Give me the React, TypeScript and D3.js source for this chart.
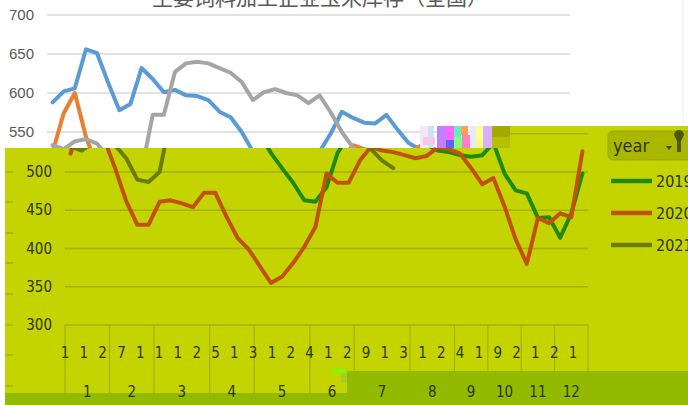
import React from 'react';
import * as d3 from 'd3';

// corn stock series (weekly points)
const TITLE = '主要饲料加工企业玉米库存（全国）';
const YEARS = ['2019', '2020', '2021'];
const values2019 = [588, 602, 606, 656, 651, 613, 578, 586, 632, 618, 601, 604, 597, 596, 591, 576, 569, 550, 525, 505, 486, 463, 461, 480, 525, 548, 576, 568, 562, 561, 572, 553, 536, 528, 526, 522, 520, 522, 538, 498, 476, 472, 440, 441, 414, 446, 498];
const values2020 = [524, 574, 600, 544, 505, 462, 431, 431, 461, 463, 459, 454, 473, 473, 442, 414, 399, 377, 355, 363, 381, 402, 428, 498, 486, 486, 515, 533, 528, 526, 522, 518, 521, 532, 530, 524, 505, 484, 492, 455, 412, 380, 440, 433, 446, 441, 527];
const values2021 = [533, 528, 538, 541, 535, 518, 490, 487, 500, 572, 572, 627, 638, 640, 638, 632, 626, 614, 591, 601, 605, 600, 597, 587, 597, 575, 550, 530, 515, 505];
const weeksPerMonth = [4, 4, 5, 4, 5, 4, 5, 4, 3, 3, 3, 3];
const monthLabels = ['1', '2', '3', '4', '5', '6', '7', '8', '9', '10', '11', '12'];
const dayLabels = ['1', '1', '2', '7', '1', '1', '1', '2', '5', '1', '3', '1', '2', '4', '1', '2', '9', '1', '3', '1', '2', '4', '1', '9', '2', '1', '2', '1'];
const topTicks = [700, 650, 600, 550];
const bottomTicks = [550, 500, 450, 400, 350, 300];

const series = [values2019, values2020, values2021];
const topColors = ['#5b9bd5', '#ed7d31', '#a5a5a5'];
const bottomColors = ['#1f8a06', '#c2500e', '#6b7d00'];

const W = 688;
const H = 405;
const N = values2019.length;

export default function App() {
  // upper (white) chart
  const xTop = d3.scalePoint<number>().domain(d3.range(N)).range([47, 570]).padding(0.5);
  const yTop = d3.scaleLinear().domain([300, 700]).range([327, 15]);
  // lower (pivot style) chart
  const xBot = d3.scalePoint<number>().domain(d3.range(N)).range([65, 588]).padding(0.5);
  const yBot = d3.scaleLinear().domain([300, 500]).range([325, 172]);
  const xDay = d3.scalePoint<number>().domain(d3.range(dayLabels.length)).range([65, 573]);

  const lineTop = d3.line<number>().x((d, i) => xTop(i)!).y(d => yTop(d));
  const lineBot = d3.line<number>().x((d, i) => xBot(i)!).y(d => yBot(d));

  const step = xBot.step();
  const x0 = xBot.range()[0];
  const ends = d3.cumsum(weeksPerMonth);
  const bounds = [0, ...Array.from(ends)].map(c => x0 + c * step);

  const numFont = "'DejaVu Sans Condensed', 'DejaVu Sans', sans-serif";
  const dark = '#2e3300';
  const grid = '#a3b100';

  const glitch = [
    ['#f4e6f4', 420, 126, 8, 22], ['#c8e4f0', 428, 126, 6, 22], ['#f8c8e8', 423, 137, 12, 8],
    ['#c080ff', 437, 126, 9, 22], ['#ff66ff', 446, 126, 8, 14], ['#6060ff', 446, 140, 8, 8],
    ['#60f0c0', 454, 126, 7, 11], ['#ffa050', 461, 126, 7, 9], ['#80ff80', 454, 137, 8, 11],
    ['#ff80c0', 462, 135, 8, 13], ['#e8e8ff', 470, 126, 6, 22], ['#ffff90', 476, 126, 7, 14],
    ['#d8b0ff', 483, 126, 9, 22], ['#f0ff80', 476, 140, 7, 8],
  ] as const;

  const dashes = [172, 202, 233, 263, 294, 325, 355, 386];

  return (
    <svg width={W} height={H} style={{ position: 'absolute', left: 0, top: 0, background: '#fff' }}>
      <defs>
        <clipPath id="lowerClip">
          <rect x={5} y={148} width={W - 5} height={H - 148} />
          <rect x={510} y={126} width={W - 510} height={22} />
        </clipPath>
      </defs>

      {/* upper chart */}
      <text x={320} y={5} textAnchor="middle" fontSize={21} fill="#595959"
        fontFamily="'Noto Sans CJK SC', sans-serif">{TITLE}</text>
      <line x1={683} x2={683} y1={0} y2={126} stroke="#eeeeee" />
      {topTicks.map(t => (
        <g key={t}>
          <line x1={47} x2={570} y1={yTop(t)} y2={yTop(t)} stroke="#d9d9d9" strokeWidth={1.3} />
          <text x={34} y={yTop(t) + 5} textAnchor="end" fontSize={15} fill="#595959"
            fontFamily="'Liberation Sans', Arial, sans-serif">{t}</text>
        </g>
      ))}
      {series.map((s, k) => (
        <path key={k} d={lineTop(s)!} fill="none" stroke={topColors[k]} strokeWidth={4}
          strokeLinejoin="round" strokeLinecap="round" />
      ))}

      {/* lower area */}
      <rect x={5} y={148} width={W - 5} height={H - 148} fill="#c4d400" />
      <rect x={510} y={126} width={W - 510} height={22} fill="#c4d400" />
      <rect x={5} y={393} width={342} height={12} fill="#92bb00" />
      <rect x={347} y={371} width={W - 347} height={H - 371} fill="#92bb00" />
      {dashes.map(d => (
        <line key={d} x1={5} x2={13} y1={d} y2={d} stroke="#a9b900" strokeWidth={2} />
      ))}

      <g clipPath="url(#lowerClip)">
        {bottomTicks.map(t => (
          <line key={t} x1={65} x2={588} y1={yBot(t)} y2={yBot(t)} stroke={grid} strokeWidth={1.3} />
        ))}
        {bounds.map((b, i) => (
          <line key={i} x1={b} x2={b} y1={325} y2={H} stroke={grid} strokeWidth={1.2} />
        ))}
        {bottomTicks.filter(t => t <= 500).map(t => (
          <text key={t} x={52} y={yBot(t) + 5} textAnchor="end" fontSize={15} fill={dark}
            fontFamily={numFont} style={{ fontStretch: 'condensed' }}>{t}</text>
        ))}
        {dayLabels.map((d, i) => (
          <text key={i} x={xDay(i)} y={358} textAnchor="middle" fontSize={15} fill={dark}
            fontFamily={numFont} style={{ fontStretch: 'condensed' }}>{d}</text>
        ))}
        {monthLabels.map((m, i) => (
          <text key={m} x={(bounds[i] + bounds[i + 1]) / 2} y={397} textAnchor="middle" fontSize={15}
            fill={dark} fontFamily={numFont} style={{ fontStretch: 'condensed' }}>{m}</text>
        ))}
        {series.map((s, k) => (
          <path key={k} d={lineBot(s)!} fill="none" stroke={bottomColors[k]} strokeWidth={4}
            strokeLinejoin="round" strokeLinecap="round" />
        ))}
      </g>

      {/* corrupted strip */}
      {glitch.map(([c, x, y, w, h], i) => (
        <rect key={i} x={x} y={y} width={w} height={h} fill={c} />
      ))}
      <rect x={492} y={126} width={18} height={11} fill="#a2aa00" />
      <rect x={492} y={137} width={18} height={11} fill="#b4c000" />
      <rect x={332} y={369} width={14} height={4} fill="#7cfc00" />
      <rect x={341} y={373} width={6} height={10} fill="#a8cc20" />

      {/* legend */}
      <rect x={608} y={131} width={90} height={29} rx={5} fill="#a9b700" stroke="#9aa700" />
      <text x={613} y={152} fontSize={18} fill={dark} fontFamily={numFont}
        style={{ fontStretch: 'condensed' }}>year</text>
      <path d="M666,146 h6 l-3,4 z" fill="#3c4400" />
      <path d="M674,135 a5,5 0 1,1 10,0 l-3,6 v11 h-4 v-11 z" fill="#4d5600" />
      {YEARS.map((y, i) => (
        <g key={y}>
          <line x1={611} x2={652} y1={181 + i * 32} y2={181 + i * 32} stroke={bottomColors[i]} strokeWidth={4.5} />
          <text x={656} y={187 + i * 32} fontSize={16} fill={dark} fontFamily={numFont}
            style={{ fontStretch: 'condensed' }}>{y}</text>
        </g>
      ))}
    </svg>
  );
}
